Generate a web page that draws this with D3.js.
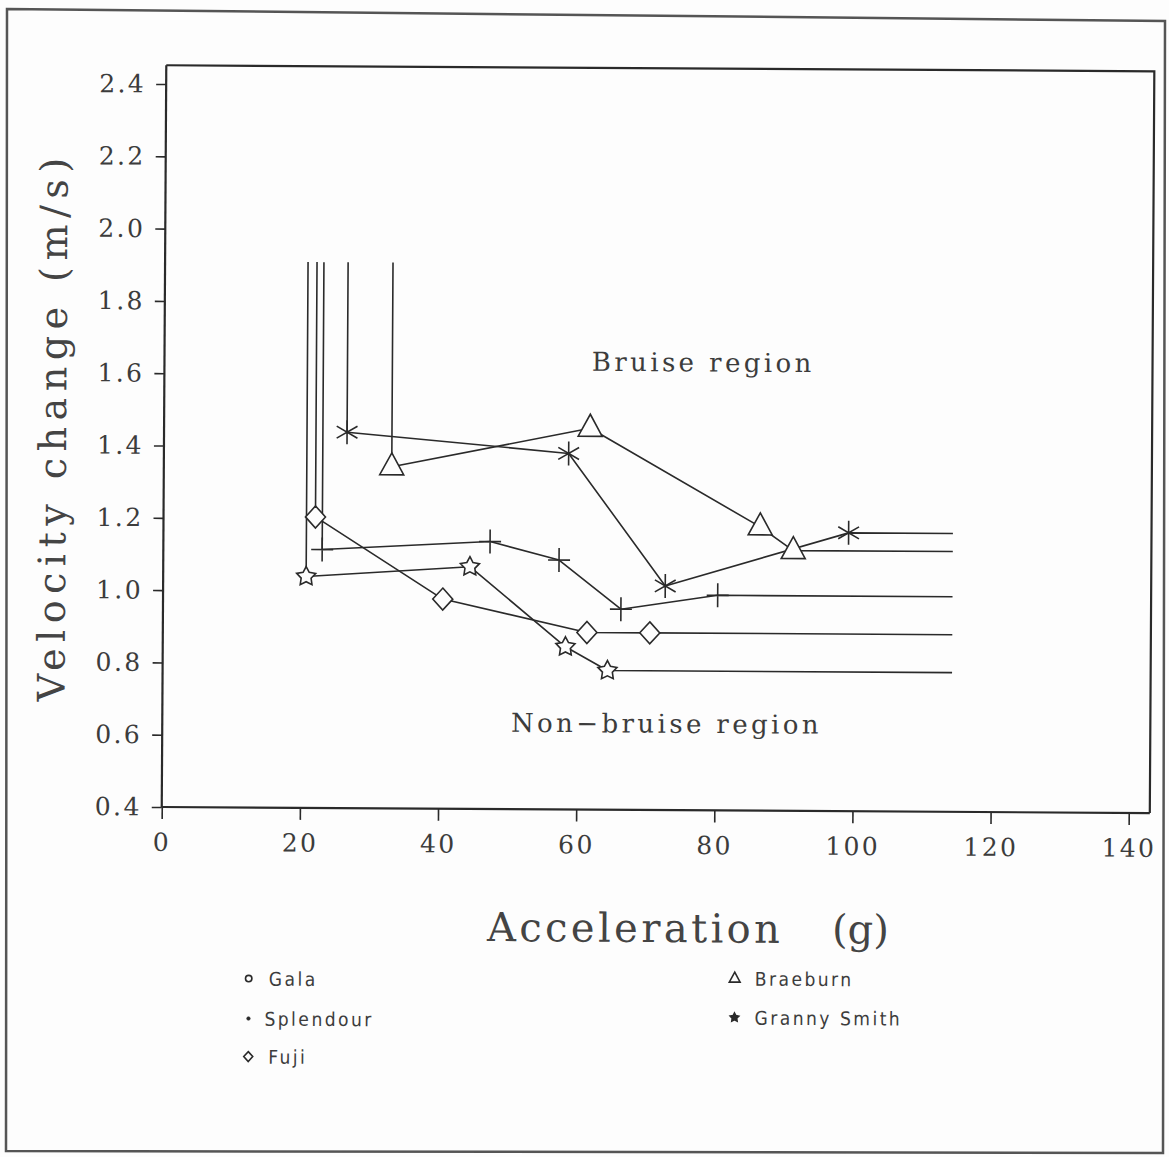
<!DOCTYPE html>
<html>
<head>
<meta charset="utf-8">
<script src="https://cdn.jsdelivr.net/npm/d3@7"></script>
<style>
  html, body { margin: 0; padding: 0; background: #fdfdfd; }
  svg { display: block; }
</style>
</head>
<body>
<svg id="chart" width="1169" height="1157"></svg>
<script>
// ---------------- data ----------------
const xTickValues = [0, 20, 40, 60, 80, 100, 120, 140];
const yTickValues = [0.4, 0.6, 0.8, 1.0, 1.2, 1.4, 1.6, 1.8, 2.0, 2.2, 2.4];

const seriesNames = ["Gala", "Splendour", "Fuji", "Braeburn", "Granny Smith"];
const seriesMarkers = ["star", "plus", "diamond", "triangle", "asterisk"];
const legendMarkers = ["circle", "dot", "diamond", "triangle", "filledstar"];

const galaX = [20.7, 44.4, 58.3, 64.4];
const galaY = [1.04, 1.07, 0.85, 0.785];
const splendourX = [23.0, 47.3, 57.3, 66.3, 80.3];
const splendourY = [1.115, 1.14, 1.09, 0.955, 0.995];
const fujiX = [22.0, 40.5, 61.4, 70.5];
const fujiY = [1.205, 0.98, 0.89, 0.89];
const braeburnX = [33.0, 61.7, 86.4, 91.2];
const braeburnY = [1.345, 1.455, 1.185, 1.12];
const grannyX = [26.5, 58.6, 72.7, 99.2];
const grannyY = [1.44, 1.385, 1.02, 1.17];

const limitTop = 1.91;     // vertical threshold lines start here
const limitRight = 114.3;  // horizontal threshold lines end here

const regionLabels = ["Bruise region", "Non\u2212bruise region"];
const regionLabelX = [78, 73];
const regionLabelY = [1.6, 0.6];

// ---------------- layout ----------------
const svg = d3.select("#chart");
const root = svg.append("g").attr("transform", "rotate(0.35, 650, 440)");

const x = d3.scaleLinear().domain([0, 140]).range([164, 1131]);
const y = d3.scaleLinear().domain([0.4, 2.4]).range([810, 87]);
const xMax = 143.05, yMax = 2.452;

const ink = "#2a2a2a";
const soft = "#3c3c3c";
const serif = "'DejaVu Serif', 'Liberation Serif', serif";

// outer page border
svg.append("path")
  .attr("d", "M7,9 L1165,21 L1163,1153 L6,1151 Z")
  .attr("fill", "none").attr("stroke", "#555").attr("stroke-width", 2.5);

// frame (top & right)
root.append("path")
  .attr("d", `M${x(0)},${y(yMax)} L${x(xMax)},${y(yMax)} L${x(xMax)},${y(0.4)}`)
  .attr("fill", "none").attr("stroke", ink).attr("stroke-width", 2.2);

// axes
const minorX = d3.range(0, 141, 4);
const minorY = d3.range(0, 41).map(i => +(0.4 + i * 0.05).toFixed(2));

const gx = root.append("g").attr("transform", `translate(0,${y(0.4)})`);
gx.call(d3.axisBottom(x).tickValues(minorX).tickSize(7).tickFormat(""));
gx.call(d3.axisBottom(x).tickValues(xTickValues).tickSize(12).tickFormat(d3.format("d")).tickPadding(14));
gx.select(".domain").remove();
gx.append("line").attr("x1", x(0)).attr("x2", x(xMax)).attr("stroke", ink).attr("stroke-width", 2.2);

const gy = root.append("g").attr("transform", `translate(${x(0)},0)`);
gy.call(d3.axisLeft(y).tickValues(minorY).tickSize(5).tickFormat(""));
gy.call(d3.axisLeft(y).tickValues(yTickValues).tickSize(10).tickFormat(d3.format(".1f")).tickPadding(10));
gy.select(".domain").remove();
gy.append("line").attr("y1", y(0.4)).attr("y2", y(yMax)).attr("stroke", ink).attr("stroke-width", 2.2);

root.selectAll(".tick line").attr("stroke", ink).attr("stroke-width", 1.6);
root.selectAll(".tick text")
  .attr("fill", soft).attr("font-family", serif).attr("font-size", 25)
  .attr("letter-spacing", 2.4);
gx.selectAll(".tick text").attr("dy", "0.71em");

// axis titles
root.append("text")
  .attr("transform", `translate(66, 430) rotate(-90)`)
  .attr("text-anchor", "middle")
  .attr("font-family", serif).attr("font-size", 38).attr("letter-spacing", 6.5)
  .attr("fill", "#444")
  .text("Velocity change (m/s)");

root.append("text")
  .attr("x", 490).attr("y", 942)
  .attr("font-family", serif).attr("font-size", 40).attr("letter-spacing", 3.4)
  .attr("fill", "#444")
  .text("Acceleration");
root.append("text")
  .attr("x", 835).attr("y", 942)
  .attr("font-family", serif).attr("font-size", 40)
  .attr("fill", "#444")
  .text("(g)");

// region labels
root.selectAll(".region").data(regionLabels).join("text")
  .attr("class", "region")
  .attr("x", (d, i) => x(regionLabelX[i]))
  .attr("y", (d, i) => y(regionLabelY[i]) - 5)
  .attr("text-anchor", "middle")
  .attr("font-family", serif).attr("font-size", 26).attr("letter-spacing", 3.4)
  .attr("fill", soft)
  .text(d => d);

// ---------------- series ----------------
const seriesX = [galaX, splendourX, fujiX, braeburnX, grannyX];
const seriesY = [galaY, splendourY, fujiY, braeburnY, grannyY];

const series = seriesNames.map((name, i) => {
  const pts = seriesX[i].map((v, j) => [v, seriesY[i][j]]);
  const last = pts[pts.length - 1];
  const path = [[pts[0][0], limitTop], ...pts, [limitRight, last[1]]];
  return { name, marker: seriesMarkers[i], pts, path };
});

const line = d3.line().x(d => x(d[0])).y(d => y(d[1]));

root.selectAll(".series").data(series).join("path")
  .attr("class", "series")
  .attr("d", d => line(d.path))
  .attr("fill", "none").attr("stroke", ink).attr("stroke-width", 1.6)
  .attr("stroke-linejoin", "round");

function markerPath(type, s) {
  const p = d3.path();
  if (type === "star" || type === "filledstar") {
    const R = 10 * s, r = 5.2 * s;
    for (let k = 0; k < 10; k++) {
      const a = -Math.PI / 2 + k * Math.PI / 5;
      const rr = k % 2 ? r : R;
      const px = rr * Math.cos(a), py = rr * Math.sin(a);
      k ? p.lineTo(px, py) : p.moveTo(px, py);
    }
    p.closePath();
  } else if (type === "plus") {
    p.moveTo(0, -12 * s); p.lineTo(0, 12 * s);
    p.moveTo(-11 * s, 0); p.lineTo(11 * s, 0);
  } else if (type === "diamond") {
    p.moveTo(0, -11 * s); p.lineTo(10 * s, 0); p.lineTo(0, 11 * s); p.lineTo(-10 * s, 0); p.closePath();
  } else if (type === "triangle") {
    p.moveTo(0, -14 * s); p.lineTo(12 * s, 8 * s); p.lineTo(-12 * s, 8 * s); p.closePath();
  } else if (type === "asterisk") {
    const R = 12 * s;
    for (let k = 0; k < 3; k++) {
      const a = Math.PI / 2 + k * Math.PI / 3;
      p.moveTo(R * Math.cos(a), R * Math.sin(a));
      p.lineTo(-R * Math.cos(a), -R * Math.sin(a));
    }
  } else if (type === "circle") {
    p.arc(0, 0, 3.2 * s, 0, 2 * Math.PI);
  } else if (type === "dot") {
    p.arc(0, 0, 1.8 * s, 0, 2 * Math.PI);
  }
  return p.toString();
}
const filled = { star: true, diamond: true, triangle: true };

series.forEach(sr => {
  root.append("g").selectAll("path").data(sr.pts).join("path")
    .attr("transform", d => `translate(${x(d[0])},${y(d[1])})`)
    .attr("d", markerPath(sr.marker, 1))
    .attr("fill", filled[sr.marker] ? "#fdfdfd" : "none")
    .attr("stroke", ink).attr("stroke-width", 1.6)
    .attr("stroke-linejoin", "miter");
});

// ---------------- legend ----------------
const legendPos = [[252, 981], [252, 1021], [252, 1059], [738, 978], [738, 1017]];
const legendSym = { circle: 1, dot: 1, diamond: 0.45, triangle: 0.45, filledstar: 0.45 };
const lg = root.append("g");
seriesNames.forEach((name, i) => {
  const [lx, ly] = legendPos[i];
  const t = legendMarkers[i];
  lg.append("path")
    .attr("transform", `translate(${lx},${ly})`)
    .attr("d", markerPath(t, legendSym[t]))
    .attr("fill", (t === "dot" || t === "filledstar") ? ink : "none")
    .attr("stroke", ink).attr("stroke-width", t === "dot" ? 0.5 : 1.6);
  lg.append("text")
    .attr("x", lx + (i === 1 ? 16 : 20)).attr("y", ly + 7)
    .attr("font-family", "'DejaVu Sans Condensed', 'DejaVu Sans', sans-serif")
    .attr("font-size", 19).attr("letter-spacing", 2.5)
    .attr("fill", soft)
    .text(name);
});
</script>
</body>
</html>
